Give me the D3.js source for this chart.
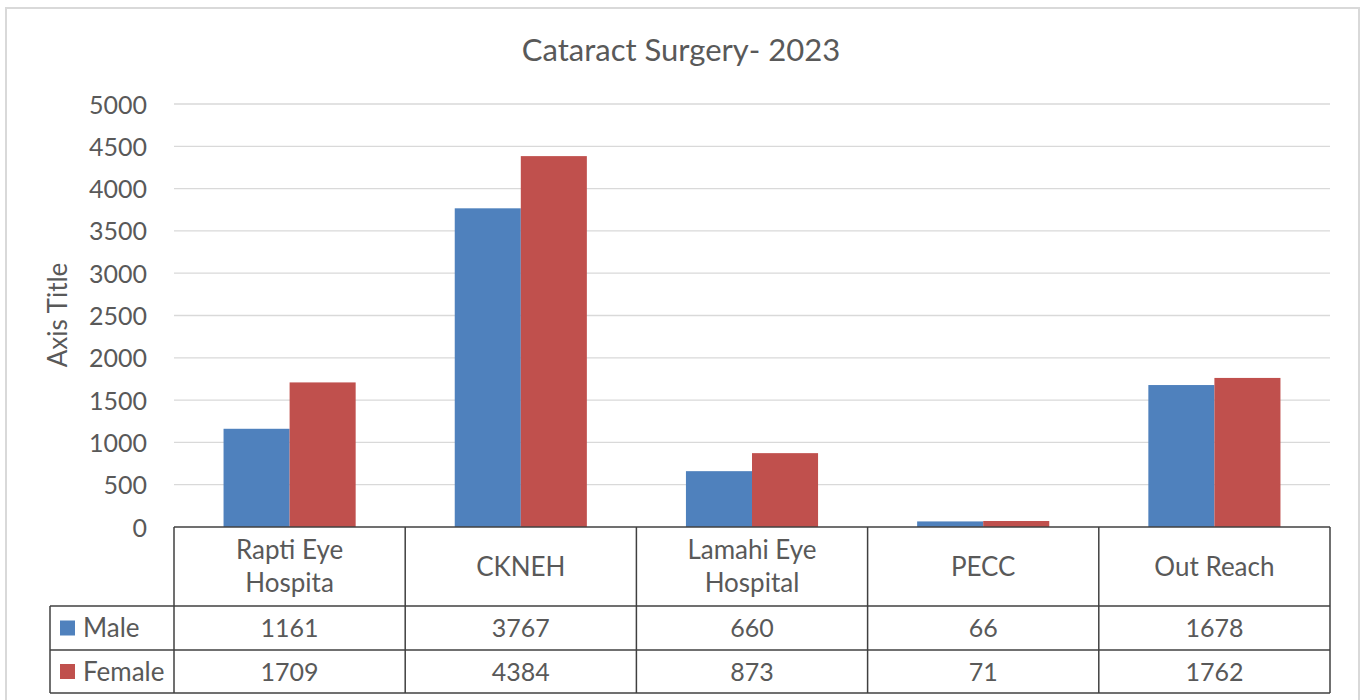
<!DOCTYPE html>
<html>
<head>
<meta charset="utf-8">
<script src="https://cdn.jsdelivr.net/npm/d3@7"></script>
<style>
  body { margin: 0; background: #fff; }
  text { font-family: Lato, "Open Sans", sans-serif; fill: #595959; }
</style>
</head>
<body>
<svg id="chart" width="1365" height="700"></svg>
<script>
// data
var categories = [["Rapti Eye", "Hospita"], ["CKNEH"], ["Lamahi Eye", "Hospital"], ["PECC"], ["Out Reach"]]
var seriesNames = ["Male", "Female"]
var maleValues = [1161, 3767, 660, 66, 1678]
var femaleValues = [1709, 4384, 873, 71, 1762]
var yTicks = [0, 500, 1000, 1500, 2000, 2500, 3000, 3500, 4000, 4500, 5000]
var colors = ["#4F81BD", "#C0504D"]

var chartTitle = "Cataract Surgery- 2023"
var axisTitle = "Axis Title"

var plot = {left: 174, right: 1330, top: 104, bottom: 527}
var tableLeft = 50
var rowBottoms = [606, 650, 693]

var svg = d3.select("#chart")

// outer chart border
svg.append("rect")
    .attr("x", 6).attr("y", 8)
    .attr("width", 1353).attr("height", 720)
    .attr("fill", "#fff")
    .attr("stroke", "#d9d9d9")
    .attr("stroke-width", 2)

var catIdx = d3.range(categories.length)
var xScale = d3.scaleBand().domain(catIdx).range([plot.left, plot.right]).padding(0)
var groupW = xScale.bandwidth() * 2 / 3.5  // gap width 150%
var xInner = d3.scaleBand().domain([0, 1]).range([0, groupW])

var yScale = d3.scaleLinear().domain([0, 5000]).range([plot.bottom, plot.top])

// gridlines
svg.append("g")
    .selectAll("line")
    .data(yTicks.filter(function (d) { return d > 0 }))
    .enter().append("line")
    .attr("x1", plot.left).attr("x2", plot.right)
    .attr("y1", function (d) { return yScale(d) })
    .attr("y2", function (d) { return yScale(d) })
    .attr("stroke", "#d9d9d9")
    .attr("stroke-width", 1.3)

// y axis labels
var yAxis = svg.append("g")
    .attr("transform", "translate(" + (plot.left - 27) + ",0)")
    .call(d3.axisLeft(yScale).tickValues(yTicks).tickFormat(d3.format("d")).tickSize(0).tickPadding(0))
yAxis.select(".domain").remove()
yAxis.selectAll("text")
    .style("font-size", "25px")
    .style("font-family", "Lato, sans-serif")
    .attr("fill", "#595959")
    .attr("dy", "0.36em")

// bars
var allSeries = [maleValues, femaleValues]
allSeries.forEach(function (vals, s) {
    svg.append("g")
        .selectAll("rect")
        .data(vals)
        .enter().append("rect")
        .attr("x", function (d, i) {
            return xScale(i) + (xScale.bandwidth() - groupW) / 2 + xInner(s)
        })
        .attr("y", function (d) { return yScale(d) })
        .attr("width", xInner.bandwidth())
        .attr("height", function (d) { return yScale(0) - yScale(d) })
        .attr("fill", colors[s])
})

// title
svg.append("text")
    .attr("x", 681).attr("y", 61)
    .attr("text-anchor", "middle")
    .style("font-size", "31px")
    .text(chartTitle)

// axis title
svg.append("text")
    .attr("transform", "translate(67,315) rotate(-90)")
    .attr("text-anchor", "middle")
    .style("font-size", "26px")
    .text(axisTitle)

// data table
var table = svg.append("g")
var lineColor = "#404040"
var lw = 1.5

// horizontal lines
table.append("line")
    .attr("x1", plot.left).attr("x2", plot.right)
    .attr("y1", plot.bottom).attr("y2", plot.bottom)
    .attr("stroke", lineColor).attr("stroke-width", lw)
rowBottoms.forEach(function (y) {
    table.append("line")
        .attr("x1", tableLeft).attr("x2", plot.right)
        .attr("y1", y).attr("y2", y)
        .attr("stroke", lineColor).attr("stroke-width", lw)
})
// vertical lines
var colEdges = catIdx.map(function (i) { return xScale(i) }).concat([plot.right])
colEdges.forEach(function (x) {
    table.append("line")
        .attr("x1", x).attr("x2", x)
        .attr("y1", plot.bottom).attr("y2", rowBottoms[2])
        .attr("stroke", lineColor).attr("stroke-width", lw)
})
table.append("line")
    .attr("x1", tableLeft).attr("x2", tableLeft)
    .attr("y1", rowBottoms[0]).attr("y2", rowBottoms[2])
    .attr("stroke", lineColor).attr("stroke-width", lw)

// category labels
categories.forEach(function (lines, i) {
    var cx = xScale(i) + xScale.bandwidth() / 2
    var mid = (plot.bottom + rowBottoms[0]) / 2
    var lh = 33
    lines.forEach(function (t, k) {
        table.append("text")
            .attr("x", cx)
            .attr("y", mid + (k - (lines.length - 1) / 2) * lh)
            .attr("dy", "0.36em")
            .attr("text-anchor", "middle")
            .style("font-size", "26px")
            .text(t)
    })
})

// value rows + legend keys
var rowTops = [rowBottoms[0], rowBottoms[1]]
allSeries.forEach(function (vals, s) {
    var mid = (rowTops[s] + rowBottoms[s + 1]) / 2
    table.append("rect")
        .attr("x", 60).attr("y", mid - 7.5)
        .attr("width", 15).attr("height", 15)
        .attr("fill", colors[s])
    table.append("text")
        .attr("x", 83).attr("y", mid)
        .attr("dy", "0.36em")
        .style("font-size", "26px")
        .text(seriesNames[s])
    table.selectAll(".v" + s)
        .data(vals)
        .enter().append("text")
        .attr("class", "v" + s)
        .attr("x", function (d, i) { return xScale(i) + xScale.bandwidth() / 2 })
        .attr("y", mid)
        .attr("dy", "0.36em")
        .attr("text-anchor", "middle")
        .style("font-size", "25px")
        .text(function (d) { return d })
})
</script>
</body>
</html>
